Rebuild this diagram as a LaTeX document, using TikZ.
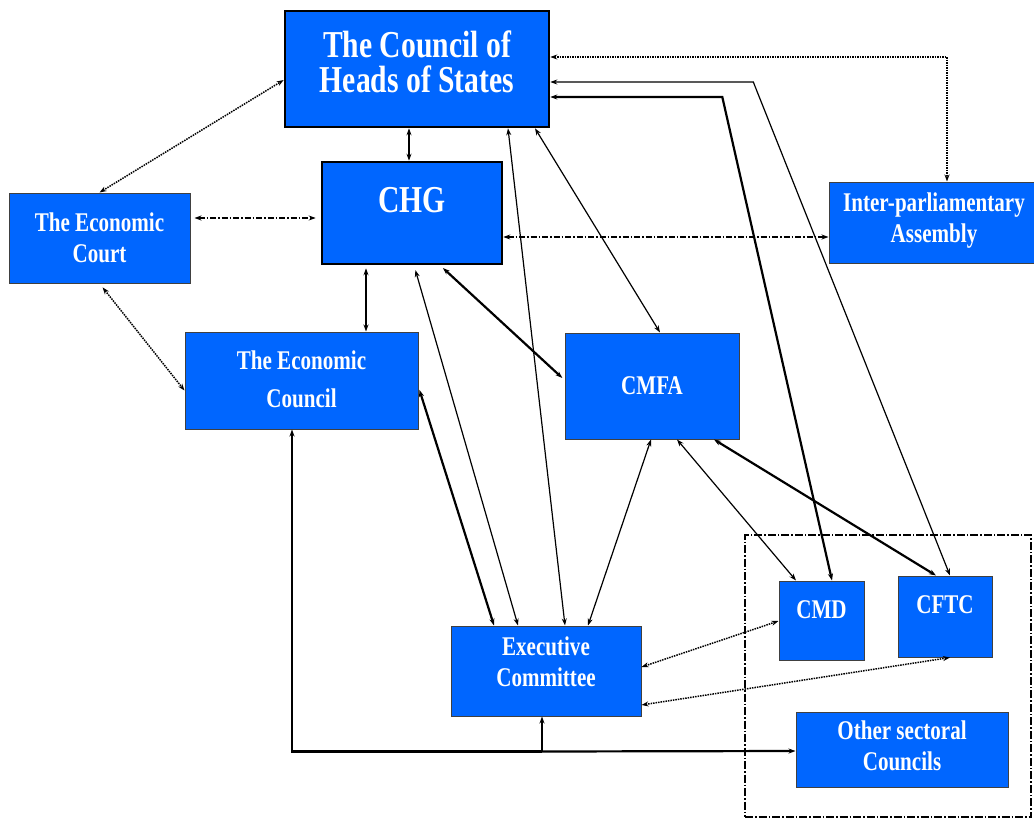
\documentclass[tikz,border=0pt]{standalone}
\usepackage{fontspec}
\setmainfont{Liberation Serif}[FakeStretch=0.78]
\usetikzlibrary{arrows.meta,calc}
\definecolor{orgblue}{RGB}{0,102,255}
\newcommand\boxfont{\fontsize{27}{31}\selectfont\bfseries}
\newcommand\bigboxfont{\fontsize{38}{35}\selectfont\bfseries}
\tikzset{
  organ/.style={draw=black!75, line width=1pt, fill=orgblue, text=white,
    inner sep=0pt, align=center, font=\boxfont},
  toporgan/.style={organ, draw=black, line width=2.6pt, font=\bigboxfont},
  link/.style={<->, line width=1.2pt},
  heavylink/.style={link, line width=2.2pt},
  dotlink/.style={link, line width=1.5pt, densely dotted},
  dashdotlink/.style={link, line width=1.4pt, dash pattern=on 6pt off 2pt on 1.5pt off 2pt},
}
\begin{document}
\begin{tikzpicture}[x=1pt, y=-1pt, >={Stealth[length=7pt,width=5pt]}]
\useasboundingbox (0,0) rectangle (1034,819);
% frame round the sectoral councils
\node[draw, line width=1.3pt, dash pattern=on 8pt off 2pt on 1.5pt off 2pt,
  minimum width=286pt, minimum height=282pt, inner sep=0pt] (sector) at (888,676) {};
% organs
\node[toporgan, minimum width=264pt, minimum height=116pt, text height=50pt, text depth=4pt] (chs) at (417,69) {The Council of\\Heads of States};
\node[toporgan, minimum width=180pt, minimum height=102pt, text height=10pt, text depth=12pt] (chg) at (412,213) {CHG};
\node[organ, minimum width=181pt, minimum height=90pt, text height=52pt, text depth=4pt] (court) at (99.5,238) {The Economic\\Court};
\node[organ, minimum width=233pt, minimum height=97pt, text height=57pt, text depth=4pt] (ecc) at (301.5,380.5) {The Economic\\[7pt]Council};
\node[organ, minimum width=174pt, minimum height=106pt, text height=20pt, text depth=4pt] (cmfa) at (652,386) {CMFA};
\node[organ, minimum width=210pt, minimum height=81pt, text height=44pt, text depth=4pt] (ipa) at (934,222.5) {Inter-parliamentary\\Assembly};
\node[organ, minimum width=190pt, minimum height=90pt, text height=34pt, text depth=4pt] (exec) at (546,671) {Executive\\Committee};
\node[organ, minimum width=85pt, minimum height=79pt, text height=10pt, text depth=15pt] (cmd) at (821.5,620.5) {CMD};
\node[organ, minimum width=94pt, minimum height=81pt, text height=10pt, text depth=17pt] (cftc) at (945,616.5) {CFTC};
\node[organ, minimum width=212pt, minimum height=75pt, text height=45pt, text depth=4pt] (other) at (902,749.5) {Other sectoral\\Councils};
% links
\draw[dotlink] (court.north) -- ($(chs.west)+(0,11)$);
\draw[link] ($(chs.south)+(-8,0)$) -- ($(chg.north)+(-3,0)$);
\draw[dashdotlink, shorten <=4pt, shorten >=5pt] ($(court.east)+(0,-20)$) -- ($(chg.west)+(0,5)$);
\draw[dotlink, shorten <=5pt] (court.south) -- ($(ecc.west)+(0,10)$);
\draw[heavylink, shorten <=3pt] ($(chg.south)+(-46,0)$) -- ($(ecc.north)+(64.5,0)$);
\draw[link, shorten <=5pt] ($(chg.south)+(2,0)$) -- ($(exec.north)+(-28,0)$);
\draw[heavylink, shorten <=3pt] ($(ecc.east)+(0,6.5)$) -- ($(exec.north)+(-52,0)$);
\draw[heavylink, shorten <=4pt, shorten >=3pt] ($(chg.south)+(28,0)$) -- ($(cmfa.west)+(0,-6)$);
\draw[link] ($(chs.south)+(91,0)$) -- ($(exec.north)+(19,0)$);
\draw[link] ($(chs.south)+(118,0)$) -- ($(cmfa.north)+(8,0)$);
\draw[link] ($(cmfa.south)+(-1,0)$) -- ($(exec.north)+(42,0)$);
\draw[link] ($(cmfa.south)+(25,0)$) -- ($(cmd.north)+(-25.5,0)$);
\draw[heavylink] ($(cmfa.south)+(62,0)$) -- ($(cftc.north)+(-9,0)$);
\draw[dotlink] ($(chs.east)+(0,-12)$) -| ($(ipa.north)+(13,0)$);
\draw[link] ($(chs.east)+(0,13)$) -- ++(203,0) -- ($(cftc.north)+(5,0)$);
\draw[heavylink] ($(chs.east)+(0,28)$) -- ++(172,0) -- ($(cmd.north)+(10.5,0)$);
\draw[dashdotlink] ($(chg.east)+(0,24)$) -- ($(ipa.west)+(0,14.5)$);
\draw[dotlink] ($(exec.east)+(0,-4)$) -- ($(cmd.west)+(0,0.5)$);
\draw[dotlink] ($(exec.east)+(0,34)$) -- ($(cftc.south)+(5,0)$);
% common line under the Executive Committee
\coordinate (jn) at ($(exec.south)+(-4,35)$);
\draw[heavylink, ->] (jn) -- ($(exec.south)+(-4,0)$);
\draw[heavylink, ->] (jn) -| ($(ecc.south)+(-9.5,0)$);
\draw[heavylink, ->] (jn) -- ($(other.west)+(0,1.5)$);
\end{tikzpicture}
\end{document}
